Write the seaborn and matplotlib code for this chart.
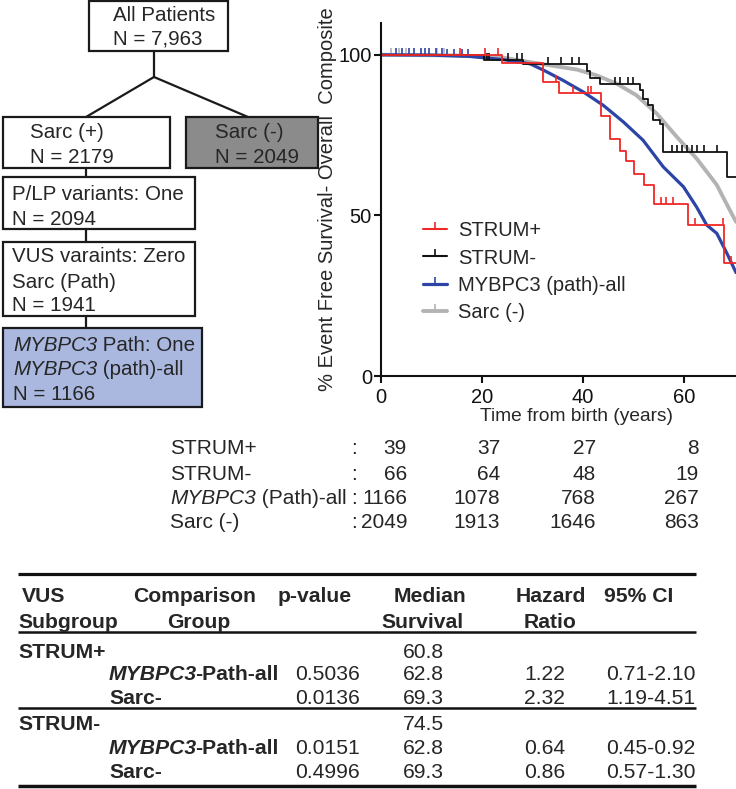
import numpy as np
import pandas as pd
import matplotlib
matplotlib.use('Agg')
import matplotlib.pyplot as plt
import seaborn as sns
from matplotlib.lines import Line2D
from matplotlib.patches import Rectangle

# Kaplan-Meier curves (years, % event free)
strum_pos_t = [0, 23.9, 32.1, 35.3, 43.6, 45.3, 47.3, 48.5, 50.2, 52.1, 54.1, 60.8, 67.9, 70.3]
strum_pos_s = [100, 97.3, 91.5, 88.2, 80.8, 73.9, 70.1, 67.0, 62.8, 59.4, 53.5, 47.0, 35.2, 35.2]
strum_neg_t = [0, 20.3, 28.2, 40.7, 41.4, 43.4, 51.2, 51.9, 52.9, 53.8, 55.2, 55.8, 68.6, 70.3]
strum_neg_s = [100, 98.5, 97.0, 94.9, 92.8, 91.0, 88.9, 86.3, 84.3, 79.6, 78.6, 69.7, 62.0, 62.0]
mybpc3_t = [0, 10, 17.6, 24.2, 29.5, 32.1, 36.1, 40.1, 44.0, 48.0, 51.9, 55.9, 59.9, 62.5, 64.5, 66.5, 68.5, 70.3]
mybpc3_s = [100, 99.9, 99.5, 98.5, 97.2, 95.3, 92.0, 88.4, 84.3, 79.1, 73.4, 65.1, 58.9, 52.6, 47.0, 44.4, 38.2, 32.2]
sarc_neg_t = [0, 15, 24.2, 30.8, 34.8, 38.8, 42.7, 46.7, 50.6, 54.6, 58.6, 62.5, 66.5, 67.8, 70.3]
sarc_neg_s = [100, 99.8, 99.1, 97.4, 96.4, 95.4, 93.6, 91.0, 87.4, 81.7, 74.4, 67.7, 59.5, 55.5, 48.0]

# censored times (tick marks)
strum_pos_cens = [15.6, 20.6, 23.2, 34.7, 38.0, 41.0, 41.6, 55.5, 56.5, 57.8, 62.1, 67.7, 69.3]
strum_neg_cens = [20.9, 21.3, 25.1, 27.0, 27.9, 33.0, 35.6, 37.9, 39.2, 46.3, 47.3, 48.9, 49.9,
                  53.9, 57.6, 58.6, 59.6, 60.6, 61.6, 62.6, 63.9, 66.5]
mybpc3_cens = [3.0, 4.2, 5.6, 6.5, 7.9, 8.8, 9.6, 10.8, 12.0, 13.1, 14.5, 16.0, 17.2]
sarc_neg_cens = [2.0, 3.5, 5.0, 11.0, 12.5]

legend_labels = ['STRUM+', 'STRUM-', 'MYBPC3 (path)-all', 'Sarc (-)']

# number at risk
risk_groups = ['STRUM+', 'STRUM-', 'MYBPC3 (Path)-all', 'Sarc (-)']
risk_strum_pos = [39, 37, 27, 8]
risk_strum_neg = [66, 64, 48, 19]
risk_mybpc3 = [1166, 1078, 768, 267]
risk_sarc_neg = [2049, 1913, 1646, 863]

# flow chart
flow_all = ['All Patients', 'N = 7,963']
flow_sarc_pos = ['Sarc (+)', 'N = 2179']
flow_sarc_neg = ['Sarc (-)', 'N = 2049']
flow_plp = ['P/LP variants: One', 'N = 2094']
flow_vus = ['VUS varaints: Zero', 'Sarc (Path)', 'N = 1941']
flow_mybpc3 = ['MYBPC3 Path: One', 'MYBPC3 (path)-all', 'N = 1166']

# results table
tbl_header1 = ['VUS', 'Comparison', 'p-value', 'Median', 'Hazard', '95% CI']
tbl_header2 = ['Subgroup', 'Group', '', 'Survival', 'Ratio', '']
tbl_subgroups = ['STRUM+', 'STRUM-']
tbl_sub_median = ['60.8', '74.5']
tbl_comparisons = ['MYBPC3-Path-all', 'Sarc-']
tbl_pvalues = [['0.5036', '0.0136'], ['0.0151', '0.4996']]
tbl_medians = [['62.8', '69.3'], ['62.8', '69.3']]
tbl_hr = [['1.22', '2.32'], ['0.64', '0.86']]
tbl_ci = [['0.71-2.10', '1.19-4.51'], ['0.45-0.92', '0.57-1.30']]

RED, BLACK, BLUE, GREY = '#f02828', '#111111', '#2c44a6', '#b3b3b3'

sns.set_style('ticks')
plt.rcParams['font.family'] = ['Liberation Sans', 'DejaVu Sans']

fig = plt.figure(figsize=(7.36, 7.89), dpi=100)
cv = fig.add_axes([0, 0, 1, 1])
cv.set_xlim(0, 736)
cv.set_ylim(789, 0)
cv.axis('off')

FS = 14.8


def rich(ax, x, y, parts, size=FS):
    # parts: list of (text, style, weight); y is the baseline
    prev = None
    for s, style, weight in parts:
        if prev is None:
            prev = ax.text(x, y, s, fontsize=size, style=style, weight=weight,
                           va='baseline', ha='left')
        else:
            # bold italic leaves a gap, pull the next piece back a bit
            dx = -1.2 if weight == 'bold' else 0
            prev = ax.annotate(s, xy=(1, 0), xycoords=prev, xytext=(dx, 0),
                               textcoords='offset points', fontsize=size, style=style,
                               weight=weight, va='bottom', ha='left')
    return prev


def gene_parts(s, weight='normal'):
    if s.startswith('MYBPC3'):
        return [('MYBPC3', 'italic', weight), (s[6:], 'normal', weight)]
    return [(s, 'normal', weight)]


# ---- flow chart ----
boxes = [
    (89, 1, 228, 51, 'white', 113, [13, 37], flow_all),
    (3, 117, 170, 168, 'white', 30, [130, 155], flow_sarc_pos),
    (186, 117, 318, 168, '#8b8b8b', 215, [130, 155], flow_sarc_neg),
    (3, 177, 195, 229, 'white', 12, [192, 217], flow_plp),
    (3, 242, 195, 316, 'white', 12, [255, 280, 303], flow_vus),
    (3, 328, 202, 407, '#aab8e0', 13, [343, 367, 392], flow_mybpc3),
]
for x0, y0, x1, y1, fc, tx, ys, lines in boxes:
    cv.add_patch(Rectangle((x0, y0), x1 - x0, y1 - y0, facecolor=fc,
                           edgecolor='#1a1a1a', lw=1.6))
    for yy, s in zip(ys, lines):
        rich(cv, tx, yy + 7.5, gene_parts(s))

for xs, ys in [([154, 154], [51, 77]), ([86, 154, 248], [117, 77, 117]),
               ([86, 86], [168, 177]), ([86, 86], [229, 242]), ([86, 86], [316, 328])]:
    cv.plot(xs, ys, color='#1a1a1a', lw=1.6)

# ---- survival plot ----
ax = fig.add_axes([381 / 736, 1 - 376 / 789, 1 - 381 / 736, (376 - 22.7) / 789])
curves = [
    (sarc_neg_t, sarc_neg_s, sarc_neg_cens, GREY, 2.8, False),
    (mybpc3_t, mybpc3_s, mybpc3_cens, BLUE, 2.3, False),
    (strum_neg_t, strum_neg_s, strum_neg_cens, BLACK, 1.3, True),
    (strum_pos_t, strum_pos_s, strum_pos_cens, RED, 1.3, True),
]
for t, s, cens, col, lw, step in curves:
    df = pd.DataFrame({'t': t, 's': s})
    sns.lineplot(data=df, x='t', y='s', ax=ax, color=col, linewidth=lw, estimator=None,
                 sort=False, drawstyle='steps-post' if step else 'default')
    if step:
        cy = np.array(s)[np.searchsorted(t, cens, side='right') - 1]
    else:
        cy = np.interp(cens, t, s)
    ax.plot(cens, cy, ls='none', marker=2, ms=5, mew=1.2, color=col)

ax.set_xlim(0, 70.3)
ax.set_ylim(0, 110)
ax.set_xticks([0, 20, 40, 60])
ax.set_yticks([0, 50, 100])
sns.despine(ax=ax)
for sp in ['left', 'bottom']:
    ax.spines[sp].set_linewidth(1.5)
    ax.spines[sp].set_color('#111111')
ax.tick_params(axis='both', labelsize=14.5, width=1.5, length=5, color='#111111', labelcolor='#111111')
ax.tick_params(axis='y', pad=1.5)
ax.set_xlabel('Time from birth (years)', fontsize=13.8, labelpad=1, x=0.552)
ax.set_ylabel('% Event Free Survival- Overall  Composite', fontsize=14.5, labelpad=1)
ax.set_facecolor('none')

handles = [Line2D([], [], color=c, lw=w, marker=2, ms=5, mew=1.2)
           for c, w in [(RED, 1.5), (BLACK, 1.5), (BLUE, 2.3), (GREY, 2.8)]]
ax.legend(handles, legend_labels, loc='upper left', bbox_to_anchor=(0.118, 0.438),
          frameon=False, fontsize=14.5, handlelength=1.2, handletextpad=0.55,
          labelspacing=0.41, borderpad=0, borderaxespad=0, numpoints=1)

# ---- number at risk ----
risk_rows = [risk_strum_pos, risk_strum_neg, risk_mybpc3, risk_sarc_neg]
risk_y = [446, 472, 496, 521]
risk_x = [407, 500, 596, 699]
for g, row, yy in zip(risk_groups, risk_rows, risk_y):
    rich(cv, 170, yy + 7.5, gene_parts(g), size=15)
    cv.text(351, yy + 7.5, ':', fontsize=15, va='baseline', ha='left')
    for xx, n in zip(risk_x, row):
        cv.text(xx, yy + 7.5, str(n), fontsize=15, va='baseline', ha='right')

# ---- results table ----
TB = 15.2
col_x = [18, 109, 295, 403, 524, 606]
head_x1 = [22, 133, 278, 394, 516, 604]
head_x2 = [18, 167, 0, 381, 524, 0]
for xx, s in zip(head_x1, tbl_header1):
    cv.text(xx, 595 + 7.5, s, fontsize=TB, weight='bold', va='baseline')
for xx, s in zip(head_x2, tbl_header2):
    if s:
        cv.text(xx, 621 + 7.5, s, fontsize=TB, weight='bold', va='baseline')

for yy, lw in [(574, 2.3), (632, 1.8), (708, 1.8), (786, 2.5)]:
    cv.plot([18, 696], [yy, yy], color='#111111', lw=lw, solid_capstyle='butt')

block_y = [[650, 672, 696], [723, 747, 771]]
for i, sub in enumerate(tbl_subgroups):
    y0, y1, y2 = block_y[i]
    cv.text(col_x[0], y0 + 7.5, sub, fontsize=TB, weight='bold', va='baseline')
    cv.text(col_x[3], y0 + 7.5, tbl_sub_median[i], fontsize=TB, va='baseline')
    for j, yy in enumerate([y1, y2]):
        rich(cv, col_x[1], yy + 7.5, gene_parts(tbl_comparisons[j], 'bold'), size=TB)
        cv.text(col_x[2], yy + 7.5, tbl_pvalues[i][j], fontsize=TB, va='baseline')
        cv.text(col_x[3], yy + 7.5, tbl_medians[i][j], fontsize=TB, va='baseline')
        cv.text(col_x[4], yy + 7.5, tbl_hr[i][j], fontsize=TB, va='baseline')
        cv.text(col_x[5], yy + 7.5, tbl_ci[i][j], fontsize=TB, va='baseline')

fig.savefig('out.png', dpi=100)
